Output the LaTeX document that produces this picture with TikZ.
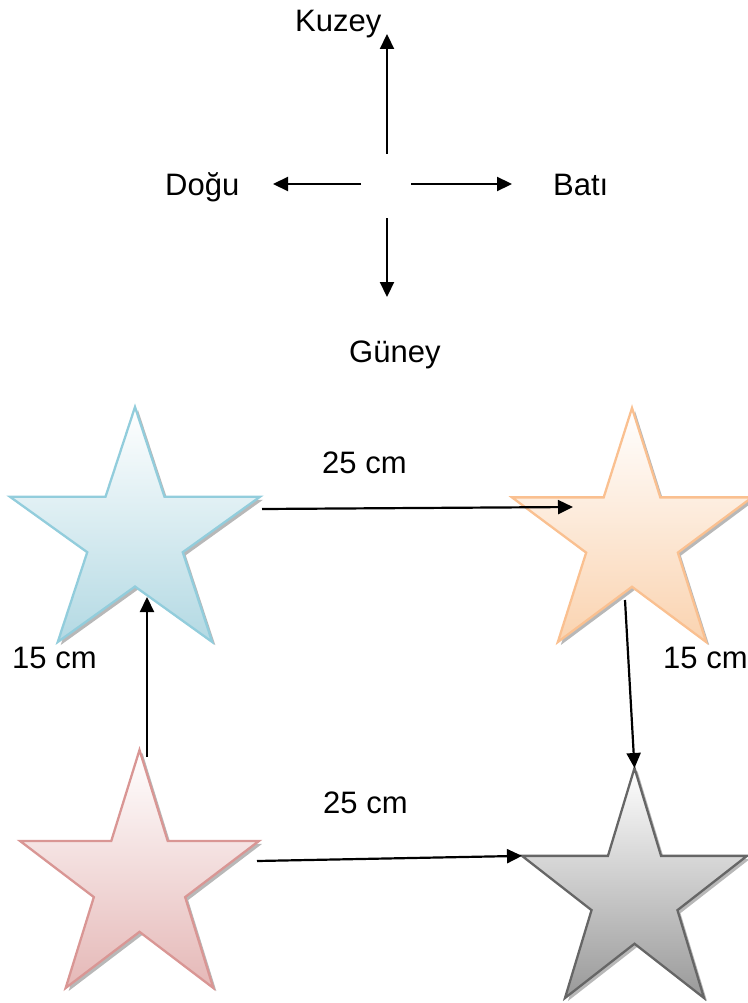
\documentclass[tikz,border=0pt]{standalone}
\usepackage{fontspec}
\setmainfont{Liberation Sans}
\usetikzlibrary{arrows.meta}
\definecolor{bluefill}{HTML}{B3D9E3}
\definecolor{bluestroke}{HTML}{92CDDC}
\definecolor{orangefill}{HTML}{FAD3B0}
\definecolor{orangestroke}{HTML}{FAC090}
\definecolor{pinkfill}{HTML}{E5B8B7}
\definecolor{pinkstroke}{HTML}{D99694}
\definecolor{grayfill}{HTML}{999999}
\definecolor{graystroke}{HTML}{666666}
\tikzset{
  conn/.style={line width=2.2pt, -{Triangle[length=15pt,width=14pt]}},
  lbl/.style={anchor=base west, inner sep=0pt, font=\fontsize{31}{36}\selectfont},
  starline/.style={line width=2.3pt, line join=miter},
}
\newcommand{\starshape}{(0.5,0) -- (0.618,0.382) -- (1,0.382) -- (0.691,0.618) -- (0.809,1) -- (0.5,0.764) -- (0.191,1) -- (0.309,0.618) -- (0,0.382) -- (0.382,0.382) -- cycle}
% #1 name, #2 x, #3 y, #4 w, #5 h, #6 fill, #7 stroke
\newcommand{\mystar}[7]{%
  \begin{scope}[shift={(#2+3,#3+3)}, xscale=#4, yscale=#5]
    \fill[black, opacity=0.28] \starshape;
  \end{scope}
  \begin{scope}[shift={(#2,#3)}, xscale=#4, yscale=#5]
    \shade[top color=white, bottom color=#6, draw=#7, starline] \starshape;
    \coordinate (#1-top) at (0.5,0);
    \coordinate (#1-in) at (0.5,0.764);
    \coordinate (#1-left) at (0,0.382);
  \end{scope}}
\begin{document}
\begin{tikzpicture}[x=1pt,y=-1pt]
\useasboundingbox (0,0) rectangle (747,1003);

% compass
\coordinate (cu0) at (387,154);
\coordinate (cu1) at (387,34);
\coordinate (cd0) at (387,218);
\coordinate (cd1) at (387,297);
\coordinate (cl0) at (361,184);
\coordinate (cl1) at (273,184);
\coordinate (cr0) at (411,184);
\coordinate (cr1) at (512,184);
\draw[conn] (cu0) -- (cu1);
\draw[conn] (cd0) -- (cd1);
\draw[conn] (cl0) -- (cl1);
\draw[conn] (cr0) -- (cr1);
\node[lbl] (kuzey) at (295,32) {Kuzey};
\node[lbl] (dogu) at (165,195) {Doğu};
\node[lbl] (bati) at (553,195) {Batı};
\node[lbl] (guney) at (349,362) {Güney};

% stars
\mystar{sb}{10}{407}{250}{235}{bluefill}{bluestroke}
\mystar{so}{512}{408}{240}{234}{orangefill}{orangestroke}
\mystar{sp}{20}{750}{239}{238}{pinkfill}{pinkstroke}
\mystar{sg}{522}{768}{225}{230}{grayfill}{graystroke}

% connectors
\coordinate (bo0) at (262,509);
\coordinate (bo1) at (573,507);
\coordinate (pb0) at (147,757);
\coordinate (pb1) at (147,597);
\coordinate (og0) at (625,600);
\coordinate (pg0) at (257,861);
\draw[conn] (bo0) -- (bo1);
\draw[conn] (pb0) -- (pb1);
\draw[conn] (og0) -- (sg-top);
\draw[conn] (pg0) -- (sg-left);

% labels
\node[lbl] (l1) at (322,473) {25 cm};
\node[lbl] (l2) at (12,668) {15 cm};
\node[lbl] (l3) at (663,668) {15 cm};
\node[lbl] (l4) at (323,813) {25 cm};
\end{tikzpicture}
\end{document}
